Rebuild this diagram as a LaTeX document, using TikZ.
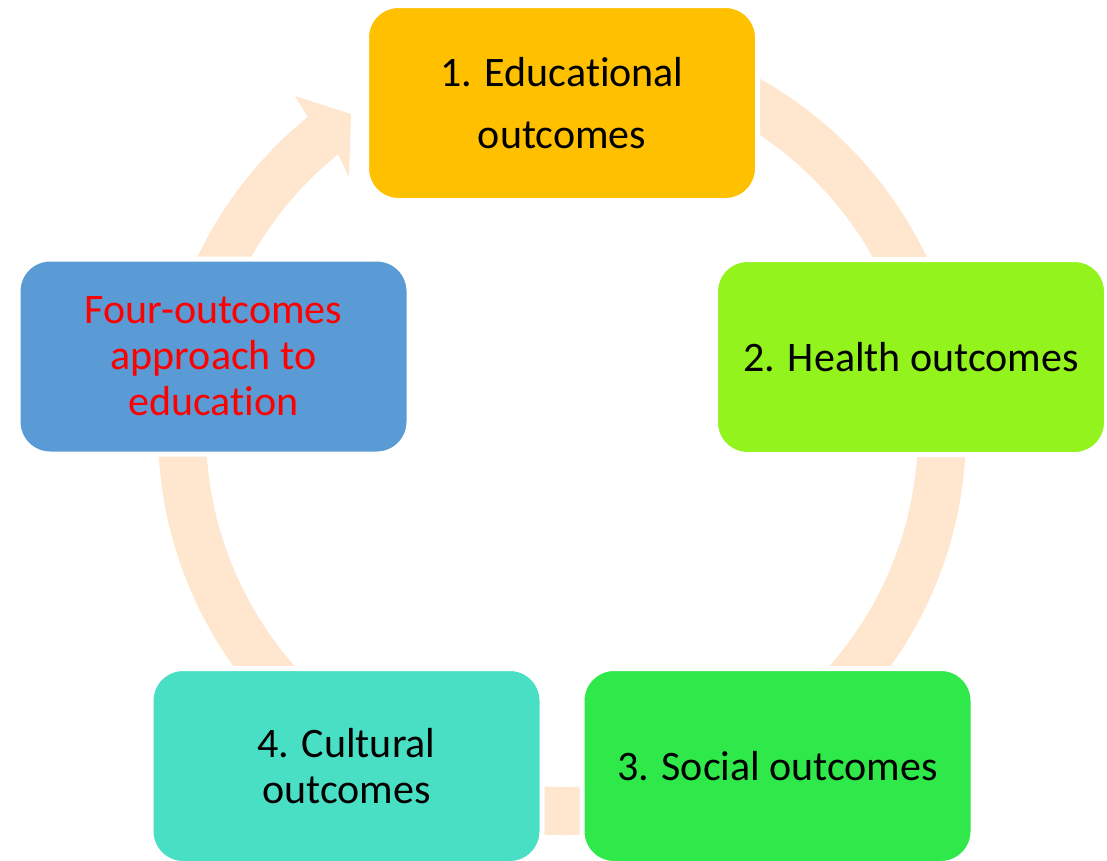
\documentclass[tikz,border=0pt]{standalone}
\usepackage{fontspec}
\setmainfont{Carlito}[Ligatures=NoCommon]
\definecolor{ringc}{HTML}{FEE7CE}
\definecolor{c1}{HTML}{FFC000}
\definecolor{c2}{HTML}{93F31C}
\definecolor{c3}{HTML}{2FE84A}
\definecolor{c4}{HTML}{49DFC4}
\definecolor{c5}{HTML}{5B9BD5}
\definecolor{redtxt}{HTML}{FF0000}
\tikzset{
  box/.style={rounded corners=32pt, draw=white, line width=5pt,
    minimum width=391pt, minimum height=195pt, inner sep=0pt,
    align=center, text=black, font=\fontsize{42}{46}\selectfont},
}
\begin{document}
\begin{tikzpicture}[x=1pt,y=-1pt]
\useasboundingbox (0,0) rectangle (1107,860);
\begin{scope}
\clip (0,0) rectangle (1107,860);
% ring with arrow head
\begin{scope}[shift={(562,431)}]
\fill[ringc] (-90:404) arc[start angle=-90, end angle=231, radius=404]
  -- (-267,-335) -- (-211,-317) -- (-213,-254) -- (231:356)
  arc[start angle=231, end angle=-90, radius=356] -- cycle;
\end{scope}
% boxes
\node[box, fill=c1, font=\fontsize{42}{62}\selectfont] (b1) at (562,103) {1. Educational\\outcomes};
\node[box, fill=c2] (b2) at (911,357) {2. Health outcomes};
\node[box, fill=c3] (b3) at (777.5,766) {3. Social outcomes};
\node[box, fill=c4] (b4) at (346.5,766) {4. Cultural\\outcomes};
\node[box, fill=c5, text=redtxt] (b5) at (213.5,356.5) {Four-outcomes\\approach to\\education};
\end{scope}
\end{tikzpicture}
\end{document}
